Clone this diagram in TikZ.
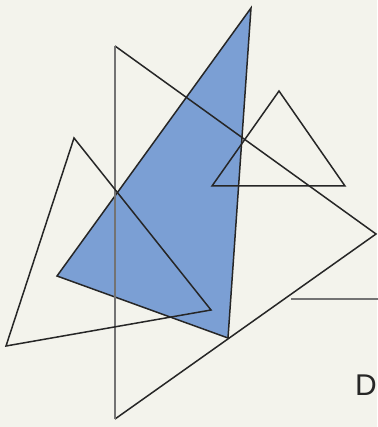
\documentclass[tikz,border=0pt]{standalone}
\usepackage{fontspec}
\setmainfont{Liberation Sans}
\definecolor{bg}{HTML}{F3F3EC}
\definecolor{tblue}{HTML}{7B9FD4}
\tikzset{
  edge/.style={draw=black!85, line width=1.5pt, line join=miter},
  greyedge/.style={draw=black!55, line width=2pt},
}
\begin{document}
\begin{tikzpicture}[x=1pt,y=-1pt]
\path[fill=bg] (0,0) rectangle (377,427);
\useasboundingbox (0,0) rectangle (377,427);
% blue triangle
\path[fill=tblue, edge] (251,8) coordinate (b1) -- (57,276) coordinate (b2) -- (228,338) coordinate (b3) -- cycle;
% big triangle
\coordinate (g1) at (115,46);
\coordinate (g2) at (376,234);
\coordinate (g3) at (115,419);
\draw[edge] (g1) -- (g2) -- (g3);
\draw[greyedge] (g3) -- (g1);
% left triangle
\draw[edge] (74,138) coordinate (l1) -- (6,346) coordinate (l2) -- (211,310) coordinate (l3) -- cycle;
% small triangle
\draw[edge] (279,91) coordinate (s1) -- (212,186) coordinate (s2) -- (345,186) coordinate (s3) -- cycle;
% horizontal line
\coordinate (h1) at (291,299);
\coordinate (h2) at (380,299);
\draw[greyedge] (h1) -- (h2);
\node[anchor=west, inner sep=0pt, font=\fontsize{30}{30}\selectfont, text=black!85] (d) at (355,385) {D};
\end{tikzpicture}
\end{document}
